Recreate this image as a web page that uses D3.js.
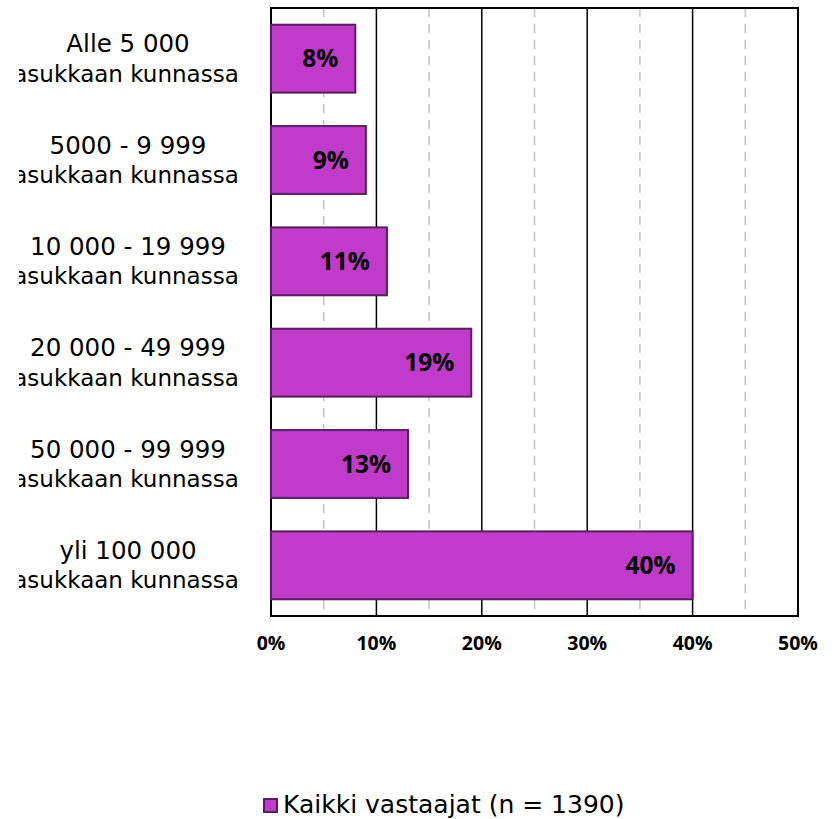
<!DOCTYPE html>
<html>
<head>
<meta charset="utf-8">
<script src="https://cdn.jsdelivr.net/npm/d3@7"></script>
<style>
  body { margin: 0; background: #fff; }
  svg { display: block; }
</style>
</head>
<body>
<svg id="chart"></svg>
<script>
// data
const categories_line1 = ["Alle 5 000", "5000 - 9 999", "10 000 - 19 999", "20 000 - 49 999", "50 000 - 99 999", "yli 100 000"];
const categories_line2 = ["asukkaan kunnassa", "asukkaan kunnassa", "asukkaan kunnassa", "asukkaan kunnassa", "asukkaan kunnassa", "asukkaan kunnassa"];
const values = [8, 9, 11, 19, 13, 40];
const major_ticks = [0, 10, 20, 30, 40, 50];
const minor_ticks = [5, 15, 25, 35, 45];
const series_name = "Kaikki vastaajat (n = 1390)";

const width = 832;
const height = 819;
const margin = {top: 8, left: 271, right: 34, bottom: 203};
const label_center = 128;
const label_clip = 19;
const bar_fill = "#c13bca";
const bar_stroke = "#5a1d60";
const label_font = "'DejaVu Sans', Verdana, sans-serif";
const bold_font = "'Open Sans', 'DejaVu Sans', sans-serif";

var svg = d3.select("#chart")
    .attr("width", width)
    .attr("height", height);

var x = d3.scaleLinear()
    .domain([0, 50])
    .range([margin.left, width - margin.right]);

var y = d3.scaleBand()
    .domain(d3.range(values.length))
    .range([margin.top, height - margin.bottom])
    .paddingInner(0.33)
    .paddingOuter(0.165);

// clip for the category labels (excel cuts them at the left)
svg.append("clipPath")
    .attr("id", "label-clip")
    .append("rect")
    .attr("x", label_clip)
    .attr("y", 0)
    .attr("width", margin.left - label_clip)
    .attr("height", height);

// dashed minor grid
svg.append("g")
    .selectAll("line")
    .data(minor_ticks)
    .enter()
    .append("line")
    .attr("x1", d => x(d))
    .attr("x2", d => x(d))
    .attr("y1", margin.top)
    .attr("y2", height - margin.bottom)
    .attr("stroke", "#c4c4c4")
    .attr("stroke-width", 1.5)
    .attr("stroke-dasharray", "9,7");

// solid major grid
svg.append("g")
    .selectAll("line")
    .data(major_ticks.slice(1, -1))
    .enter()
    .append("line")
    .attr("x1", d => x(d))
    .attr("x2", d => x(d))
    .attr("y1", margin.top)
    .attr("y2", height - margin.bottom)
    .attr("stroke", "#000")
    .attr("stroke-width", 1.5);

// plot border
svg.append("rect")
    .attr("x", x(0))
    .attr("y", margin.top)
    .attr("width", x(50) - x(0))
    .attr("height", height - margin.bottom - margin.top)
    .attr("fill", "none")
    .attr("stroke", "#000")
    .attr("stroke-width", 2);

// bars
svg.append("g")
    .selectAll("rect")
    .data(values)
    .enter()
    .append("rect")
    .attr("x", x(0))
    .attr("y", (d, i) => y(i))
    .attr("width", d => x(d) - x(0))
    .attr("height", y.bandwidth())
    .attr("fill", bar_fill)
    .attr("stroke", bar_stroke)
    .attr("stroke-width", 2);

// value labels (inside end)
svg.append("g")
    .selectAll("text")
    .data(values)
    .enter()
    .append("text")
    .attr("x", d => x(d) - 17)
    .attr("y", (d, i) => y(i) + y.bandwidth() / 2)
    .attr("dy", "0.35em")
    .attr("text-anchor", "end")
    .attr("font-family", bold_font)
    .attr("font-weight", "bold")
    .attr("font-size", 24.5)
    .attr("fill", "#000")
    .text(d => d + "%");

// category labels
var cat = svg.append("g")
    .attr("clip-path", "url(#label-clip)")
    .selectAll("g")
    .data(values)
    .enter()
    .append("g")
    .attr("font-family", label_font)
    .attr("text-anchor", "middle")
    .attr("fill", "#000");

cat.append("text")
    .attr("x", label_center)
    .attr("y", (d, i) => y(i) + y.bandwidth() / 2 - 15)
    .attr("dy", "0.35em")
    .attr("font-size", 24.5)
    .text((d, i) => categories_line1[i]);

cat.append("text")
    .attr("x", label_center - 2)
    .attr("y", (d, i) => y(i) + y.bandwidth() / 2 + 15)
    .attr("dy", "0.35em")
    .attr("font-size", 23)
    .text((d, i) => categories_line2[i]);

// x axis labels
svg.append("g")
    .selectAll("text")
    .data(major_ticks)
    .enter()
    .append("text")
    .attr("x", d => x(d))
    .attr("y", height - margin.bottom + 27)
    .attr("dy", "0.35em")
    .attr("text-anchor", "middle")
    .attr("font-family", bold_font)
    .attr("font-weight", "bold")
    .attr("font-size", 19.5)
    .attr("fill", "#000")
    .text(d => d + "%");

// legend
var legend = svg.append("g")
    .attr("transform", "translate(263,804)");

legend.append("rect")
    .attr("x", 1)
    .attr("y", -5)
    .attr("width", 13)
    .attr("height", 13)
    .attr("fill", bar_fill)
    .attr("stroke", bar_stroke)
    .attr("stroke-width", 2);

legend.append("text")
    .attr("x", 20)
    .attr("y", 0)
    .attr("dy", "0.35em")
    .attr("font-family", label_font)
    .attr("font-size", 25)
    .attr("fill", "#000")
    .text(series_name);
</script>
</body>
</html>
